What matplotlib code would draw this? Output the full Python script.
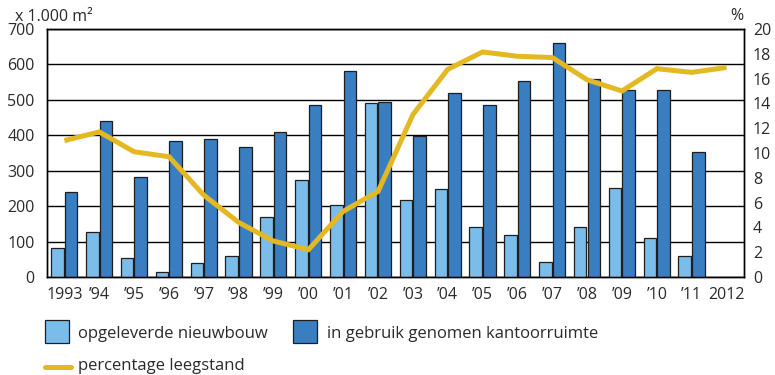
import matplotlib
matplotlib.use("Agg")
import matplotlib.pyplot as plt
import numpy as np
from matplotlib.patches import Rectangle
from matplotlib.lines import Line2D

plt.rcParams['font.family'] = ['Open Sans', 'DejaVu Sans']

years = ["1993", "’94", "’95", "’96", "’97", "’98", "’99", "’00", "’01", "’02",
         "’03", "’04", "’05", "’06", "’07", "’08", "’09", "’10", "’11", "2012"]
nieuwbouw = [82, 126, 54, 14, 40, 59, 169, 273, 204, 491,
             217, 248, 140, 119, 43, 142, 251, 109, 58, None]
in_gebruik = [239, 439, 281, 385, 390, 367, 409, 485, 582, 494,
              398, 518, 486, 552, 661, 558, 528, 527, 353, None]
leegstand = [11.0, 11.7, 10.1, 9.7, 6.6, 4.4, 2.9, 2.2, 5.3, 6.9,
             13.1, 16.75, 18.15, 17.8, 17.7, 15.9, 15.0, 16.8, 16.5, 16.9]

LIGHT = "#7bbdea"
DARK = "#3a7ec2"
GOLD = "#e4b823"
EDGE = "#1e1e1e"
TXT = "#2a2a2a"
FS = 11.5
FS_LEG = 12

W, H = 775, 375
fig = plt.figure(figsize=(W / 100, H / 100), dpi=100)
ax = fig.add_axes([47 / W, 1 - 277 / H, (744 - 47) / W, (277 - 29) / H])

x = np.arange(len(years))
nb = np.array([np.nan if v is None else v for v in nieuwbouw], dtype=float)
ig = np.array([np.nan if v is None else v for v in in_gebruik], dtype=float)
ok = ~np.isnan(nb)
ax.bar(x[ok] - 0.2, nb[ok], width=0.36, color=LIGHT, edgecolor=EDGE,
       linewidth=0.9, zorder=3)
ax.bar(x[ok] + 0.19, ig[ok], width=0.36, color=DARK, edgecolor=EDGE,
       linewidth=0.9, zorder=3)

ax.set_xlim(-0.5, len(years) - 0.5)
ax.set_ylim(0, 700)
ax.set_yticks(range(0, 701, 100))
ax.set_xticks(x)
ax.set_xticklabels(years)
ax.yaxis.grid(True, color="black", linewidth=1.0, zorder=0)
ax.set_axisbelow(True)
ax.tick_params(axis="both", length=0, labelsize=FS, colors=TXT)
ax.tick_params(axis="y", pad=9)
ax.tick_params(axis="x", pad=7)
for s in ax.spines.values():
    s.set_color("black")
    s.set_linewidth(1.0)

ax2 = ax.twinx()
ax2.plot(x, leegstand, color=GOLD, linewidth=3.6, solid_capstyle="butt",
         solid_joinstyle="miter", zorder=5)
ax2.set_ylim(0, 20)
ax2.set_yticks(range(0, 21, 2))
ax2.tick_params(axis="y", length=0, labelsize=FS, colors=TXT, pad=6.5)
for s in ax2.spines.values():
    s.set_color("black")
    s.set_linewidth(1.0)

# unit labels
fig.text(15 / W, 1 - 17 / H, "x 1.000 m²", fontsize=FS, color=TXT,
         ha="left", va="center")
fig.text(737 / W, 1 - 16 / H, "%", fontsize=FS, color=TXT,
         ha="center", va="center")

# legend
def fx(px):
    return px / W

def fy(py):
    return 1 - py / H

fig.add_artist(Rectangle((fx(45), fy(343)), 24 / W, 23 / H, facecolor=LIGHT,
                         edgecolor=EDGE, linewidth=0.9, transform=fig.transFigure))
fig.text(fx(78), fy(334), "opgeleverde nieuwbouw", fontsize=FS_LEG,
         color=TXT, ha="left", va="center")
fig.add_artist(Rectangle((fx(293), fy(343)), 24 / W, 23 / H, facecolor=DARK,
                         edgecolor=EDGE, linewidth=0.9, transform=fig.transFigure))
fig.text(fx(327), fy(334), "in gebruik genomen kantoorruimte", fontsize=FS_LEG,
         color=TXT, ha="left", va="center")
fig.add_artist(Line2D([fx(45), fx(71)], [fy(367), fy(367)], color=GOLD,
                      linewidth=3.6, solid_capstyle="round",
                      transform=fig.transFigure))
fig.text(fx(78), fy(366), "percentage leegstand", fontsize=FS_LEG,
         color=TXT, ha="left", va="center")

fig.savefig("out.png", dpi=100)
